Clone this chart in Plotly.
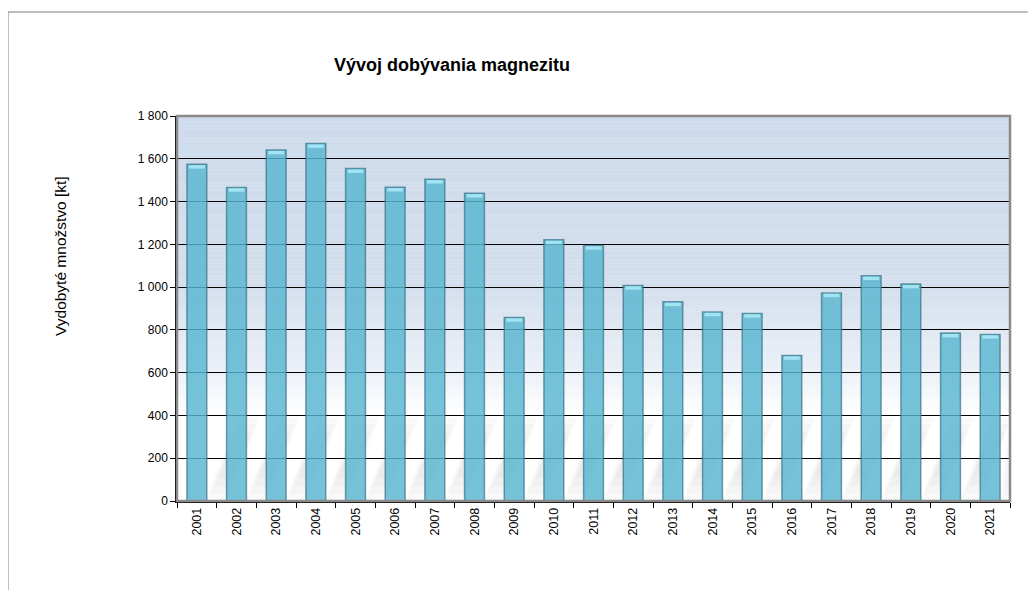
import plotly.graph_objects as go

years = [str(y) for y in range(2001, 2022)]
production = [1574, 1466, 1641, 1671, 1554, 1467, 1504, 1439, 858, 1221, 1195,
              1008, 931, 884, 877, 680, 973, 1053, 1014, 785, 779]
y_ticks = [0, 200, 400, 600, 800, 1000, 1200, 1400, 1600, 1800]

title_text = "Vývoj dobývania magnezitu"
y_title = "Vydobyté množstvo [kt]"

FONT = "Liberation Sans, Arial, sans-serif"

# plot area in screen pixels (page has an 8px body margin)
PL, PR, PT, PB = 177, 1010, 116, 501
PW, PH = PR - PL, PB - PT


def px(x):
    return (x - PL) / PW


def py(y):
    return (PB - y) / PH


fig = go.Figure()

# main bars
fig.add_trace(go.Bar(
    x=years, y=production, width=0.5,
    marker=dict(color="rgba(88,182,209,0.82)",
                line=dict(color="rgba(55,115,135,0.7)", width=1.5)),
    hoverinfo="x+y",
))
# light cap on top of each bar (cylinder highlight)
fig.add_trace(go.Bar(
    x=years, y=[16] * len(years), base=[v - 20 for v in production], width=0.4,
    marker=dict(color="rgba(165,230,243,0.95)", line=dict(width=0)),
    hoverinfo="skip",
))


def lerp(c1, c2, t):
    return tuple(int(round(a + (b - a) * t)) for a, b in zip(c1, c2))


stops = [(0, (255, 255, 255)), (400, (255, 255, 255)), (600, (236, 241, 248)),
         (1000, (212, 223, 237)), (1800, (206, 219, 236))]
shapes = []
n = 120
for i in range(n):
    y0 = 1800 * i / n
    y1 = 1800 * (i + 1) / n
    ym = (y0 + y1) / 2
    for k in range(len(stops) - 1):
        if stops[k][0] <= ym <= stops[k + 1][0]:
            t = (ym - stops[k][0]) / (stops[k + 1][0] - stops[k][0])
            c = lerp(stops[k][1], stops[k + 1][1], t)
            break
    shapes.append(dict(type="rect", xref="paper", yref="y", x0=0, x1=1, y0=y0, y1=y1 + 1,
                       fillcolor="rgb(%d,%d,%d)" % c, line=dict(width=0), layer="below"))

# soft (layered) diagonal floor shadows behind the bars
n_cat = len(years)
for i in range(n_cat):
    for h0, h1, dx, a in [(0, 390, 0.0, 0.018), (30, 360, 0.04, 0.018),
                          (70, 320, 0.08, 0.02), (110, 280, 0.1, 0.02)]:
        x0 = i + 0.22 + dx
        x1 = i + 0.78 - dx
        xs0, xs1 = h0 / 480, h1 / 480
        xa, xb = min(x0 + xs0, n_cat - 0.5), min(x1 + xs0, n_cat - 0.5)
        xc, xd = min(x1 + xs1, n_cat - 0.5), min(x0 + xs1, n_cat - 0.5)
        if xa >= n_cat - 0.5:
            continue
        shapes.append(dict(
            type="path", xref="x", yref="y",
            path=f"M {xa} {h0} L {xb} {h0} L {xc} {h1} L {xd} {h1} Z",
            fillcolor=f"rgba(0,0,0,{a})", line=dict(width=0), layer="below"))

# plot frame (grey top/right)
shapes.append(dict(type="rect", xref="paper", yref="paper", x0=0, x1=1, y0=0, y1=1,
                   line=dict(color="#8a8a8a", width=2.5), layer="above"))
# outer chart frame
shapes.append(dict(type="rect", xref="paper", yref="paper",
                   x0=px(8), x1=px(1060), y0=py(620), y1=py(12),
                   line=dict(color="#7f7f7f", width=1), layer="above"))

fig.update_layout(
    width=1028, height=582,
    margin=dict(l=PL - 8, r=1036 - PR, t=PT - 8, b=590 - PB),
    paper_bgcolor="white", plot_bgcolor="rgba(0,0,0,0)",
    barmode="overlay", showlegend=False,
    separators=", ",
    font=dict(family=FONT, size=12, color="black"),
    shapes=shapes,
    annotations=[
        dict(text="<b>" + title_text + "</b>", xref="paper", yref="paper",
             x=px(451.5), y=py(65.5), xanchor="center", yanchor="middle",
             showarrow=False, font=dict(family=FONT, size=18, color="black")),
        dict(text=y_title, xref="paper", yref="paper", textangle=-90,
             x=px(60), y=py(256), xanchor="center", yanchor="middle",
             showarrow=False, font=dict(family=FONT, size=15.5, color="black")),
    ],
)
fig.update_xaxes(
    type="category", range=[-0.5, n_cat - 0.5], tickangle=-90, tickson="boundaries",
    ticks="outside", ticklen=5,
    tickcolor="black", tickwidth=1, showline=True, linecolor="black", linewidth=1.5,
    showgrid=False, tickfont=dict(family=FONT, size=12.5, color="black"),
)
fig.update_yaxes(
    range=[0, 1800], tickvals=y_ticks, tickformat=",d", ticks="outside", ticklen=5,
    tickcolor="black", showline=True, linecolor="black", linewidth=1.5,
    showgrid=True, gridcolor="black", gridwidth=1, zeroline=False,
    tickfont=dict(family=FONT, size=12, color="black"),
    layer="below traces",
)

fig.write_html("out.html")
